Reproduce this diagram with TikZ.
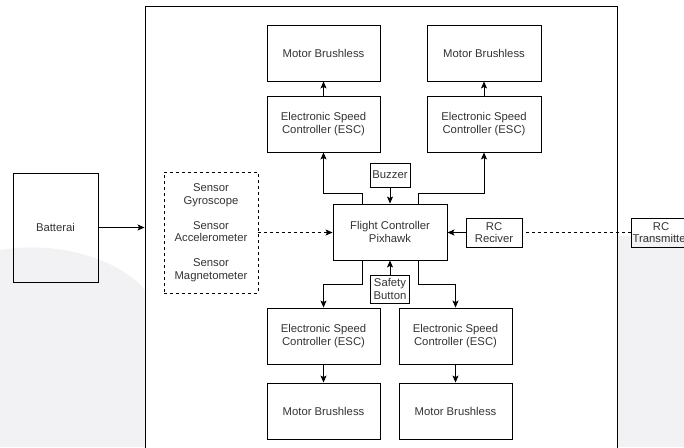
\documentclass[tikz,border=0pt]{standalone}
\usepackage{fontspec}
\setmainfont{Liberation Sans}
\usepackage{tikz}
\usetikzlibrary{positioning}
\usetikzlibrary{arrows.meta}
\definecolor{txtgray}{HTML}{333333}
\definecolor{bggray}{HTML}{F2F2F4}

\begin{document}
\begin{tikzpicture}[x=1pt, y=-1pt,
  box/.style={draw, line width=0.9pt, font=\fontsize{11.3}{12.5}\selectfont, text=txtgray, align=center, inner sep=1pt},
  dbox/.style={box, dashed},
  arr/.style={line width=0.9pt, -{Stealth[length=7pt,width=6pt,inset=1.5pt]}},
  darr/.style={arr, dashed}]
\useasboundingbox (0,0) rectangle (684,447);
\clip (0,0) rectangle (684,447);
% Background
\fill [bggray] (0,250) .. controls (60,240) and (120,260) .. (145,290) -- (145,447) -- (0,447) -- cycle;
\fill [bggray] (617,236) -- (684,236) -- (684,447) -- (617,447) -- cycle;
% Frame
\node [draw, line width=0.9pt, fill=white, minimum width=472pt, minimum height=460pt, inner sep=0pt] (frame) at (381,236) {};
% Blocks
\node [box, minimum width=85pt, minimum height=109pt] (bat) at (55.5,227.5) {Batterai};
\node [dbox, minimum width=94pt, minimum height=121pt] (sens) at (211,232.5)
  {Sensor\\Gyroscope\\[12.5pt]Sensor\\Accelerometer\\[12.5pt]Sensor\\Magnetometer};
\node [box, minimum width=114pt, minimum height=56pt] (fc) at (390,232) {Flight Controller\\Pixhawk};
\node [box, minimum width=40pt, minimum height=24pt] (buzz) at (390,175) {Buzzer};
\node [box, minimum width=39pt, minimum height=28pt] (safe) at (390,289) {Safety\\Button};
\node [box, minimum width=56pt, minimum height=29pt] (rcr) at (494,232.5) {RC\\Reciver};
\node [box, minimum width=54pt, minimum height=29pt] (rct) at (661,232.5) {RC\\Transmitter};
% ESC and motors
\node [box, minimum width=113pt, minimum height=56pt] (escTL) at (323.5,124) {Electronic Speed\\Controller (ESC)};
\node [box, minimum width=114pt, minimum height=56pt] (escTR) at (484,124) {Electronic Speed\\Controller (ESC)};
\node [box, minimum width=113pt, minimum height=56pt] (motTL) at (323.5,53) {Motor Brushless};
\node [box, minimum width=114pt, minimum height=56pt] (motTR) at (484,53) {Motor Brushless};
\node [box, minimum width=113pt, minimum height=56pt] (escBL) at (323.5,336) {Electronic Speed\\Controller (ESC)};
\node [box, minimum width=113pt, minimum height=56pt] (escBR) at (455.5,336) {Electronic Speed\\Controller (ESC)};
\node [box, minimum width=113pt, minimum height=56pt] (motBL) at (323.5,411) {Motor Brushless};
\node [box, minimum width=113pt, minimum height=56pt] (motBR) at (455.5,411) {Motor Brushless};
% Connections
\draw [arr] (bat.east) -- (bat.east -| frame.west);
\draw [darr] (sens.east) -- (sens.east -| fc.west);
\draw [darr, -] (rct.west) -- (rcr.east);
\draw [arr] (rcr.west) -- (rcr.west -| fc.east);
\draw [arr] (buzz.south) -- (fc.north);
\draw [arr] (safe.north) -- (fc.south);
\draw [arr] ([xshift=-28pt]fc.north) -- ++(0,-10) -| (escTL.south);
\draw [arr] ([xshift=28pt]fc.north) -- ++(0,-10) -| (escTR.south);
\draw [arr] ([xshift=-28pt]fc.south) -- ++(0,24) -| (escBL.north);
\draw [arr] ([xshift=28pt]fc.south) -- ++(0,24) -| (escBR.north);
\draw [arr] (escTL.north) -- (motTL.south);
\draw [arr] (escTR.north) -- (motTR.south);
\draw [arr] (escBL.south) -- (motBL.north);
\draw [arr] (escBR.south) -- (motBR.north);
\end{tikzpicture}
\end{document}
